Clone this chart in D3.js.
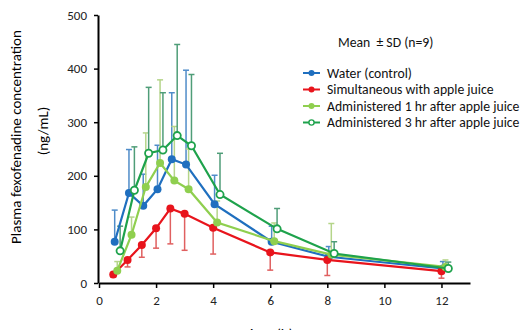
<!DOCTYPE html>
<html lang="en">
<head>
  <meta charset="UTF-8">
  <title>Plasma fexofenadine concentration</title>
  <script src="https://d3js.org/d3.v7.min.js"></script>
  <style>
    body { margin: 0; background: #fff; font-family: Carlito, Lato, "Open Sans", sans-serif; }
    .axis path, .axis line { stroke: #000; }
    .axis path { stroke-width: 2px; }
    .axis line { stroke-width: 1.5px; }
    .axis text { font-size: 13px; fill: #222; font-family: Carlito, Lato, sans-serif; }
    .legend text { font-size: 13.7px; fill: #111; }
  </style>
</head>
<body>
<div id="chart"></div>
<script>
// sampling times (h)
const times = [0.5, 1, 1.5, 2, 2.5, 3, 4, 6, 8, 12];

// mean concentrations (ng/mL)
const water    = [77, 168, 144, 175, 231, 221, 147, 77, 49, 27];
const simult   = [16, 43, 71, 102, 139, 129, 103, 57, 43, 22];
const after1hr = [23, 90, 179, 224, 191, 175, 113, 78, 53, 30];
const after3hr = [60, 173, 242, 248, 275, 256, 165, 101, 55, 27];

// SD
const waterSD    = [59, 81, 59, 82, 124, 176, 54, 29, 19, 13];
const simultSD   = [5, 13, 23, 37, 66, 68, 49, 33, 29, 13];
const after1hrSD = [17, 33, 101, 155, 101, 75, 40, 34, 58, 13];
const after3hrSD = [46, 81, 123, 107, 170, 133, 77, 38, 22, 12];

const labels = ["Water (control)", "Simultaneous with apple juice",
                "Administered 1 hr after apple juice", "Administered 3 hr after apple juice"];
const xTicks = [0, 2, 4, 6, 8, 10, 12];
const yTicks = [0, 100, 200, 300, 400, 500];

// small horizontal shift so overlapping points can be seen, and which way the SD bar goes
const series = [
  {name: labels[0], mean: water,    sd: waterSD,    color: "#1f6fbf", bar: "#4f8cc9", shift: 0.05, dir: 1,  open: false},
  {name: labels[1], mean: simult,   sd: simultSD,   color: "#e8141c", bar: "#e06060", shift: 0,    dir: -1, open: false},
  {name: labels[2], mean: after1hr, sd: after1hrSD, color: "#8fcf4f", bar: "#b5d58a", shift: 0.14, dir: 1,  open: false},
  {name: labels[3], mean: after3hr, sd: after3hrSD, color: "#1ea24c", bar: "#4f9d78", shift: 0.24, dir: 1,  open: true}
];

const svg = d3.select("#chart").append("svg")
  .attr("width", 524)
  .attr("height", 330);

const x = d3.scaleLinear().domain([0, 13]).range([99, 470]);
const y = d3.scaleLinear().domain([0, 500]).range([283, 15]);

svg.append("g")
  .attr("class", "axis")
  .attr("transform", `translate(0,${y(0)})`)
  .call(d3.axisBottom(x).tickValues(xTicks).tickSize(5).tickSizeOuter(0).tickPadding(8));

svg.append("g")
  .attr("class", "axis")
  .attr("transform", `translate(${x(0) - 1},0)`)
  .call(d3.axisLeft(y).tickValues(yTicks).tickSize(4).tickSizeOuter(0).tickPadding(7));

// axis titles
svg.append("text")
  .attr("transform", `translate(21,137) rotate(-90)`)
  .attr("text-anchor", "middle")
  .style("font-size", "15px")
  .text("Plasma fexofenadine concentration");
svg.append("text")
  .attr("transform", `translate(48,131) rotate(-90)`)
  .attr("text-anchor", "middle")
  .style("font-size", "15px")
  .text("(ng/mL)");
svg.append("text")
  .attr("x", 268).attr("y", 339)
  .attr("text-anchor", "middle")
  .style("font-size", "15px")
  .text("Time (h)");

// error bars first, under the lines
series.forEach(s => {
  const g = svg.append("g");
  times.forEach((t, i) => {
    const cx = x(t + s.shift);
    const y0 = y(s.mean[i]);
    const y1 = y(s.mean[i] + s.dir * s.sd[i]);
    g.append("line").attr("x1", cx).attr("x2", cx).attr("y1", y0).attr("y2", y1)
      .attr("stroke", s.bar).attr("stroke-width", 1.5);
    g.append("line").attr("x1", cx - 3).attr("x2", cx + 3).attr("y1", y1).attr("y2", y1)
      .attr("stroke", s.bar).attr("stroke-width", 1.5);
  });
});

const line = d3.line()
  .x(d => x(d[0]))
  .y(d => y(d[1]));

series.forEach(s => {
  const pts = times.map((t, i) => [t + s.shift, s.mean[i]]);
  svg.append("path")
    .datum(pts)
    .attr("fill", "none")
    .attr("stroke", s.color)
    .attr("stroke-width", 2.2)
    .attr("d", line);
  svg.append("g").selectAll("circle")
    .data(pts)
    .enter().append("circle")
    .attr("cx", d => x(d[0]))
    .attr("cy", d => y(d[1]))
    .attr("r", s.open ? 3.6 : 4)
    .attr("fill", s.open ? "#fff" : s.color)
    .attr("stroke", s.color)
    .attr("stroke-width", s.open ? 1.8 : 0);
});

// legend
const legend = svg.append("g").attr("class", "legend");
legend.append("text")
  .attr("x", 338).attr("y", 47)
  .style("white-space", "pre")
  .text("Mean  \u00b1 SD (n=9)");

series.forEach((s, i) => {
  const ly = 73 + i * 16.5;
  legend.append("line")
    .attr("x1", 303).attr("x2", 320).attr("y1", ly).attr("y2", ly)
    .attr("stroke", s.color).attr("stroke-width", 2);
  legend.append("circle")
    .attr("cx", 311.5).attr("cy", ly).attr("r", s.open ? 2.6 : 3)
    .attr("fill", s.open ? "#fff" : s.color)
    .attr("stroke", s.color).attr("stroke-width", s.open ? 1.4 : 0);
  legend.append("text")
    .attr("x", 327).attr("y", ly + 4.5)
    .text(s.name);
});
</script>
</body>
</html>
